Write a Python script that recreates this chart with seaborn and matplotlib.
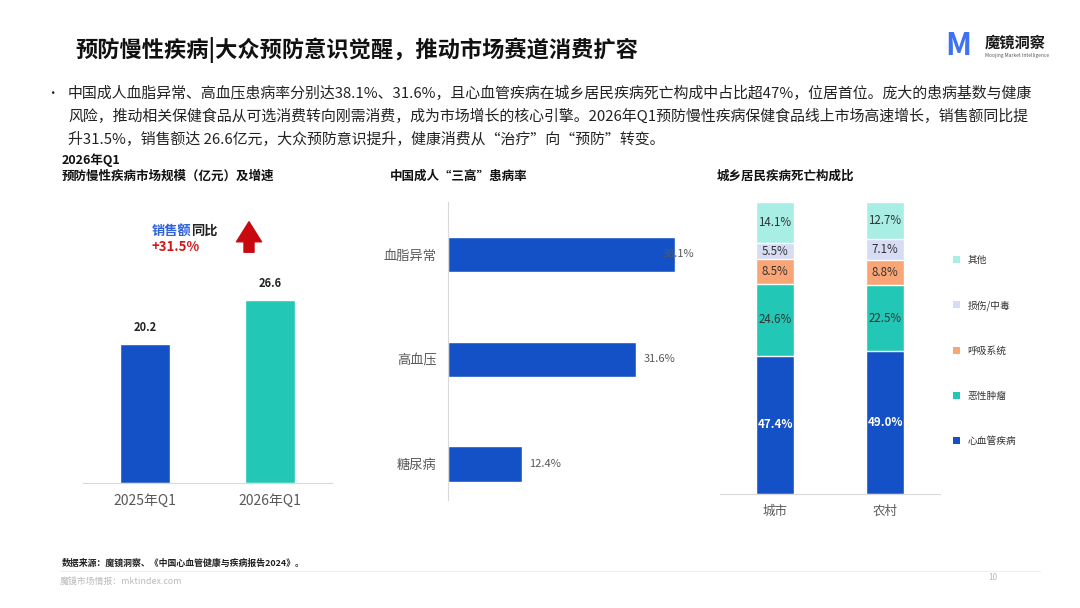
import numpy as np
import pandas as pd
import matplotlib
matplotlib.use('Agg')
import matplotlib.pyplot as plt
import seaborn as sns
from matplotlib.patches import Patch

# --- Datos ---
quarters = ['2025年Q1', '2026年Q1']
sales = [20.2, 26.6]

diseases = ['血脂异常', '高血压', '糖尿病']
rates = [38.1, 31.6, 12.4]

areas = ['城市', '农村']
causes = ['心血管疾病', '恶性肿瘤', '呼吸系统', '损伤/中毒', '其他']
city_share = [47.4, 24.6, 8.5, 5.5, 14.1]
rural_share = [49.0, 22.5, 8.8, 7.1, 12.7]

# --- Estilo ---
sns.set_style('white')
plt.rcParams['font.family'] = ['Noto Sans CJK SC', 'DejaVu Sans']

BLUE = '#1451C6'
TEAL = '#22C8B5'
ORANGE = '#F9A575'
LAVENDER = '#D7DCF5'
AQUA = '#A9EEE4'
GRAY = '#595959'
AXIS = '#D9D9D9'
cause_colors = [BLUE, TEAL, ORANGE, LAVENDER, AQUA]

W, H = 1080, 608
fig = plt.figure(figsize=(W / 100, H / 100), dpi=100)


def box(x0, y0, x1, y1):
    # caja en pixeles (origen arriba a la izquierda) -> coordenadas de figura
    return [x0 / W, 1 - y1 / H, (x1 - x0) / W, (y1 - y0) / H]


def ftext(x, y, s, **kw):
    kw.setdefault('va', 'center')
    fig.text(x / W, 1 - y / H, s, **kw)


# --- Cabecera ---
ftext(75, 50, '预防慢性疾病|大众预防意识觉醒，推动市场赛道消费扩容',
      fontsize=16, fontweight='bold', color='#111111')
ftext(945, 46, 'M', fontsize=22, fontweight='bold', color='#3D73F2')
ftext(985, 43, '魔镜洞察', fontsize=11, fontweight='bold', color='#1A1A1A')
ftext(985, 55, 'Moojing Market Intelligence', fontsize=3.5, color='#555555')

bullet_lines = [
    '中国成人血脂异常、高血压患病率分别达38.1%、31.6%，且心血管疾病在城乡居民疾病死亡构成中占比超47%，位居首位。庞大的患病基数与健康',
    '风险，推动相关保健食品从可选消费转向刚需消费，成为市场增长的核心引擎。2026年Q1预防慢性疾病保健食品线上市场高速增长，销售额同比提',
    '升31.5%，销售额达 26.6亿元，大众预防意识提升，健康消费从“治疗”向“预防”转变。',
]
ftext(46, 93, '•', fontsize=9, color='#222222')
for i, line in enumerate(bullet_lines):
    ftext(68, 93 + 23 * i, line, fontsize=10.75, color='#222222')

# --- 1) Mercado ---
ftext(62, 160, '2026年Q1', fontsize=9, fontweight='bold', color='#111111')
ftext(62, 176, '预防慢性疾病市场规模（亿元）及增速', fontsize=9, fontweight='bold', color='#111111')

ax1 = fig.add_axes(box(83, 208, 332, 483))
sns.barplot(x=quarters, y=sales, hue=quarters, palette=[BLUE, TEAL],
            width=0.4, saturation=1, legend=False, ax=ax1)
for c in ax1.containers:
    ax1.bar_label(c, fmt='%.1f', padding=7, fontsize=8, fontweight='bold', color='#222222')
ax1.set_xlim(-0.5, 1.5)
ax1.set_ylim(0, 40)
ax1.set_yticks([])
ax1.set_xlabel('')
ax1.set_ylabel('')
sns.despine(ax=ax1, left=True)
ax1.spines['bottom'].set_color(AXIS)
ax1.tick_params(axis='x', length=0, pad=8, labelsize=10, labelcolor=GRAY)
ax1.set_xticks([0.5], minor=True)
ax1.tick_params(axis='x', which='minor', length=6, color=AXIS)

ftext(152, 231, '销售额', fontsize=9.5, fontweight='bold', color='#2E62D9')
ftext(191, 231, '同比', fontsize=9.5, fontweight='bold', color='#222222')
ftext(151, 247, '+31.5%', fontsize=9.5, fontweight='bold', color='#D3161C')
ax1.annotate('', xy=(249, H - 219), xytext=(249, H - 255),
             xycoords='figure pixels', textcoords='figure pixels',
             arrowprops=dict(arrowstyle='simple,head_width=1.5,head_length=1.2,tail_width=0.6',
                             color='#C8090F', mutation_scale=12))

# --- 2) Tres altos ---
ftext(390, 176, '中国成人“三高”患病率', fontsize=9, fontweight='bold', color='#111111')
ax2 = fig.add_axes(box(448, 202, 716, 500))
sns.barplot(x=rates, y=diseases, orient='h', color=BLUE, width=0.34,
            saturation=1, ax=ax2)
ax2.set_xlim(0, 45)
ax2.set_ylim(2.34, -0.5)
ax2.set_xticks([])
ax2.set_xlabel('')
ax2.set_ylabel('')
sns.despine(ax=ax2, bottom=True)
ax2.spines['left'].set_color(AXIS)
ax2.tick_params(axis='y', length=0, pad=8, labelsize=9.5, labelcolor=GRAY)
label_shift = [-2.0, 1.2, 1.2]
for i, v in enumerate(rates):
    ax2.text(v + label_shift[i], i, f'{v}%', va='center', ha='left',
             fontsize=8, color=GRAY)

# --- 3) Estructura de mortalidad ---
ftext(717, 176, '城乡居民疾病死亡构成比', fontsize=9, fontweight='bold', color='#111111')
ax3 = fig.add_axes(box(720, 202, 940, 494))
share = pd.DataFrame({'城市': city_share, '农村': rural_share}, index=causes)
cum = share.cumsum()
for k in range(len(causes) - 1, -1, -1):
    sns.barplot(x=areas, y=cum.iloc[k].values, color=cause_colors[k],
                width=0.35, saturation=1, ax=ax3)
for j, area in enumerate(areas):
    bottom = 0
    for k, cause in enumerate(causes):
        v = share.loc[cause, area]
        if k == 0:
            ax3.text(j, bottom + v / 2, f'{v:.1f}%', ha='center', va='center',
                     fontsize=8.3, fontweight='bold', color='white')
        else:
            ax3.text(j, bottom + v / 2, f'{v:.1f}%', ha='center', va='center',
                     fontsize=8.3, color='#333333')
        bottom += v
ax3.set_xlim(-0.5, 1.5)
ax3.set_ylim(0, 100.1)
ax3.set_yticks([])
ax3.set_xlabel('')
ax3.set_ylabel('')
sns.despine(ax=ax3, left=True)
ax3.spines['bottom'].set_color(AXIS)
ax3.tick_params(axis='x', length=0, pad=8, labelsize=9, labelcolor=GRAY)

handles = [Patch(facecolor=cause_colors[k], edgecolor='none', label=causes[k])
           for k in range(len(causes) - 1, -1, -1)]
fig.legend(handles=handles, loc='upper left', bbox_to_anchor=(948 / W, 1 - 250 / H),
           frameon=False, fontsize=7, labelcolor='#333333', labelspacing=3.6,
           handlelength=0.7, handleheight=0.7, handletextpad=0.8, borderpad=0)

# --- Pie ---
ftext(62, 563, '数据来源：魔镜洞察、《中国心血管健康与疾病报告2024》。',
      fontsize=6.4, fontweight='bold', color='#222222')
fig.add_artist(plt.Line2D([60 / W, 1040 / W], [1 - 571 / H, 1 - 571 / H],
                          color='#F0F0F0', lw=0.8))
ftext(60, 582, '魔镜市场情报：mktindex.com', fontsize=6.4, color='#BBBBBB')
ftext(988, 578, '10', fontsize=6, color='#BBBBBB')

fig.savefig('out.png', dpi=100, facecolor='white')
